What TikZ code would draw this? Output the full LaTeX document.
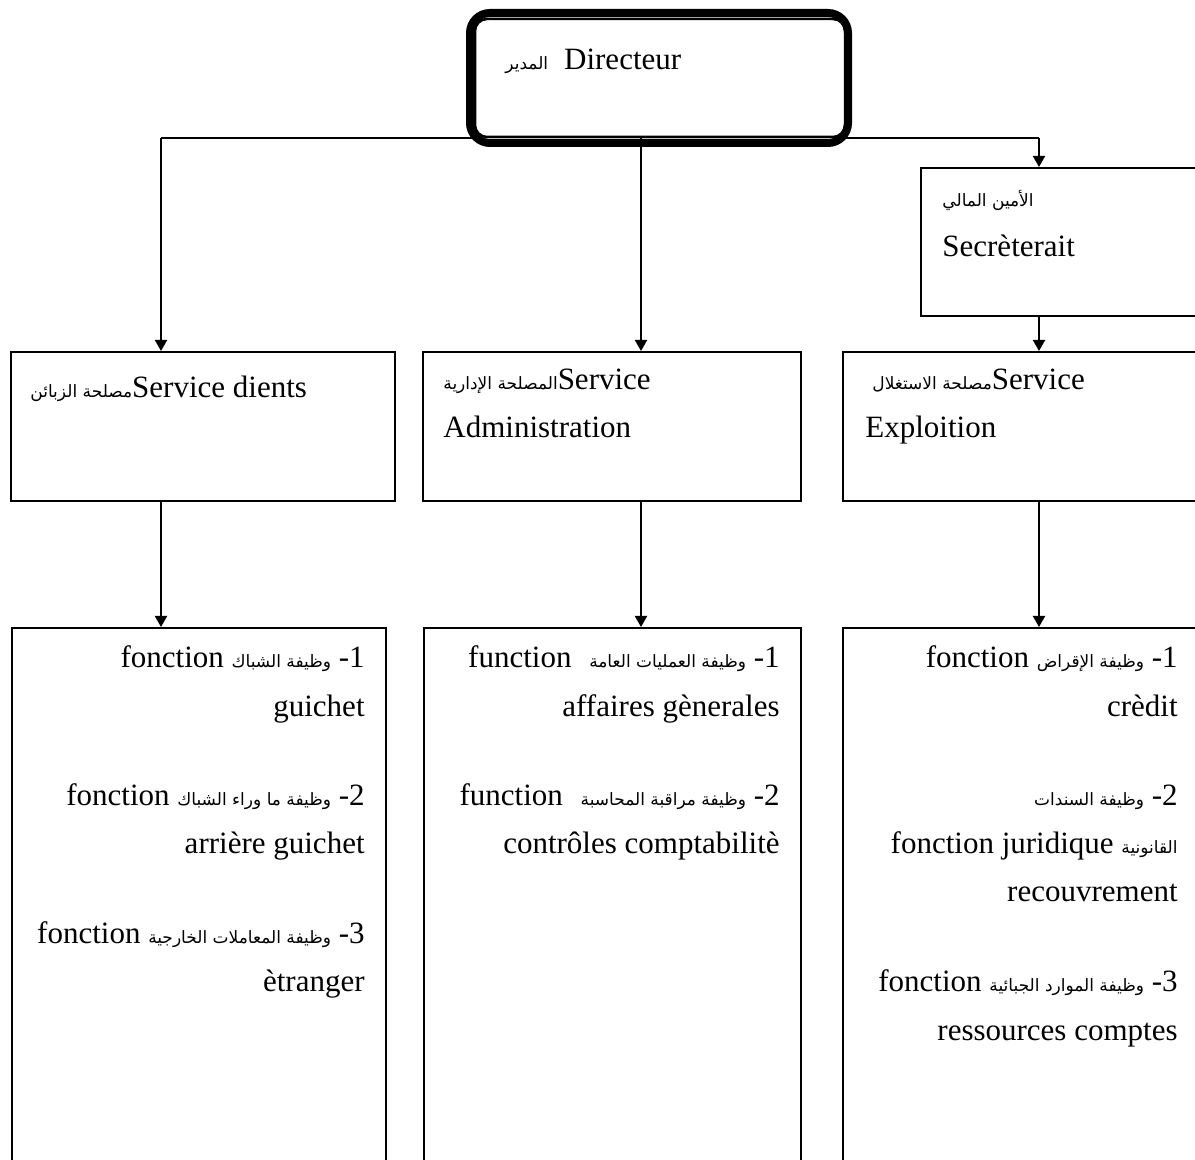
\documentclass[tikz,border=0pt]{standalone}
\usepackage{fontspec}
\setmainfont{Liberation Serif}
\newfontfamily\arabicfont[Script=Arabic]{DejaVu Sans}
\TeXXeTstate=1
\usetikzlibrary{arrows.meta}
% Arabic run, set right to left in a smaller size
\newcommand\arab[1]{{\arabicfont\fontsize{8.5}{10}\selectfont\beginR#1\endR}}

\begin{document}
\begin{tikzpicture}[x=0.5pt,y=-0.5pt,
  box/.style={draw, line width=1pt, fill=white, inner sep=0pt, anchor=north west},
  link/.style={line width=1pt},
  arr/.style={line width=1pt, -{Triangle[length=5.5pt,width=6pt]}},
  lbl/.style={inner sep=0pt, font=\fontsize{15.5}{18}\selectfont},
  lblL/.style={lbl, anchor=base west},
  lblR/.style={lbl, anchor=base east},
]
\useasboundingbox (0,0) rectangle (1195,1160);
\clip (0,0) rectangle (1195,1160);

% junction points of the connector tree
\coordinate (jL) at (161,138);
\coordinate (jM) at (641,138);
\coordinate (jR) at (1039,138);
\draw[link] (jL) -- (jR);

% director box: thick outer frame with a thin inner frame
\node[draw, line width=4pt, rounded corners=10pt, fill=white, inner sep=0pt,
      minimum width=189pt, minimum height=65pt, anchor=north west] (dir) at (466,9) {};
\draw[line width=1.25pt, rounded corners=6pt]
  ([shift={(9,10)}]dir.north west) rectangle ([shift={(-7,-10)}]dir.south east);

% boxes
\node[box, minimum width=170pt, minimum height=74pt] (sec) at (920,167) {};
\node[box, minimum width=192pt, minimum height=74.5pt] (svc1) at (10,351) {};
\node[box, minimum width=189pt, minimum height=74.5pt] (svc2) at (422,351) {};
\node[box, minimum width=200pt, minimum height=74.5pt] (svc3) at (842,351) {};
\node[box, minimum width=187pt, minimum height=300pt] (fn1) at (11,627) {};
\node[box, minimum width=188.5pt, minimum height=300pt] (fn2) at (423,627) {};
\node[box, minimum width=200pt, minimum height=300pt] (fn3) at (842,627) {};

% connectors
\draw[arr] (jL) -- (jL |- svc1.north);
\draw[arr] (jM) -- (jM |- svc2.north);
\draw[arr] (jR) -- (jR |- sec.north);
\draw[arr] (sec.south -| jR) -- (jR |- svc3.north);
\draw[arr] (svc1.south -| jL) -- (jL |- fn1.north);
\draw[arr] (svc2.south -| jM) -- (jM |- fn2.north);
\draw[arr] (svc3.south -| jR) -- (jR |- fn3.north);

% director
\node[lblL] (dirT) at (505,70) {\arab{المدير}\hspace{8pt}Directeur};

% secretariat
\node[lblL] (secA) at (942,207) {\arab{الأمين المالي}};
\node[lblL] (secB) at (942,257) {Secrèterait};

% services
\node[lblL] (s1a) at (30,398) {\arab{مصلحة الزبائن}Service dients};
\node[lblL] (s2a) at (443,390) {\arab{المصلحة الإدارية}Service};
\node[lblL] (s2b) at (443,438) {Administration};
\node[lblL] (s3a) at (872,390) {\arab{مصلحة الاستغلال}Service};
\node[lblL] (s3b) at (865,438) {Exploition};

% functions, clients service
\node[lblR] (f1a) at (365,668) {fonction \arab{وظيفة الشباك} -1};
\node[lblR] (f1b) at (365,716) {guichet};
\node[lblR] (f1c) at (365,805) {fonction \arab{وظيفة ما وراء الشباك} -2};
\node[lblR] (f1d) at (365,853) {arrière guichet};
\node[lblR] (f1e) at (365,943) {fonction \arab{وظيفة المعاملات الخارجية} -3};
\node[lblR] (f1f) at (365,991) {ètranger};

% functions, administration
\node[lblR] (f2a) at (780,668) {function\hspace{5pt} \arab{وظيفة العمليات العامة} -1};
\node[lblR] (f2b) at (780,716) {affaires gènerales};
\node[lblR] (f2c) at (780,805) {function\hspace{5pt} \arab{وظيفة مراقبة المحاسبة} -2};
\node[lblR] (f2d) at (780,853) {contrôles comptabilitè};

% functions, exploitation
\node[lblR] (f3a) at (1178,668) {fonction \arab{وظيفة الإقراض} -1};
\node[lblR] (f3b) at (1178,716) {crèdit};
\node[lblR] (f3c) at (1178,805) {\arab{وظيفة السندات} -2};
\node[lblR] (f3d) at (1178,853) {fonction juridique \arab{القانونية}};
\node[lblR] (f3e) at (1178,901) {recouvrement};
\node[lblR] (f3f) at (1178,991) {fonction \arab{وظيفة الموارد الجبائية} -3};
\node[lblR] (f3g) at (1178,1040) {ressources comptes};
\end{tikzpicture}
\end{document}
